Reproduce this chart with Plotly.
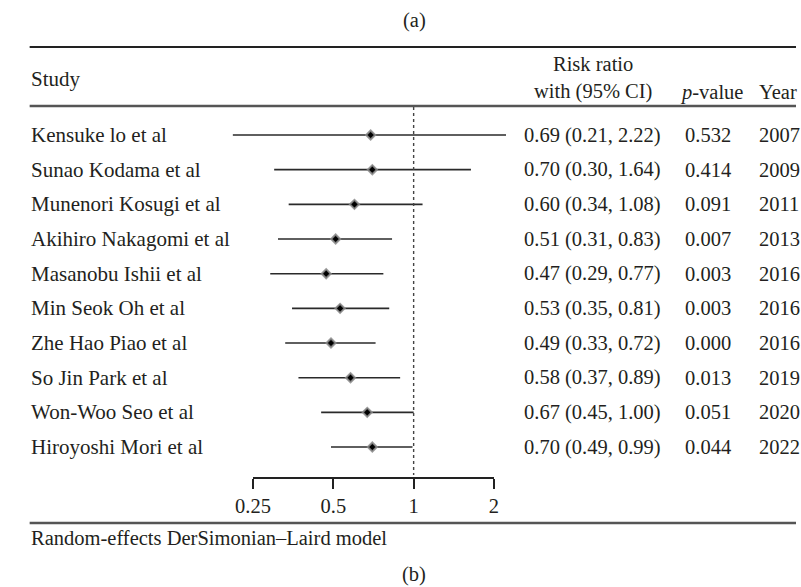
import math
import plotly.graph_objects as go

# ---------------- data ----------------
studies = ["Kensuke lo et al", "Sunao Kodama et al", "Munenori Kosugi et al",
           "Akihiro Nakagomi et al", "Masanobu Ishii et al", "Min Seok Oh et al",
           "Zhe Hao Piao et al", "So Jin Park et al", "Won-Woo Seo et al",
           "Hiroyoshi Mori et al"]
rr = [0.69, 0.70, 0.60, 0.51, 0.47, 0.53, 0.49, 0.58, 0.67, 0.70]
ci_low = [0.21, 0.30, 0.34, 0.31, 0.29, 0.35, 0.33, 0.37, 0.45, 0.49]
ci_high = [2.22, 1.64, 1.08, 0.83, 0.77, 0.81, 0.72, 0.89, 1.00, 0.99]
p_values = ["0.532", "0.414", "0.091", "0.007", "0.003", "0.003", "0.000", "0.013", "0.051", "0.044"]
years = ["2007", "2009", "2011", "2013", "2016", "2016", "2016", "2019", "2020", "2022"]
tick_vals = [0.25, 0.5, 1, 2]
tick_labels = ["0.25", "0.5", "1", "2"]

# ---------------- layout helpers ----------------
W, H = 801, 587
FONT = "Liberation Serif, Times New Roman, serif"
FS = 20.5
FS_NAME = 21
TXT = "#231f20"

row0_px, row_step = 135.0, 34.67
axis_px = 477.0
ax_left_px, ax_right_px = 242.0, 490.0
px_per_log2 = (ax_right_px - ax_left_px) / 3.0
one_px = ax_left_px + 2 * px_per_log2


def py(p):
    return 1 - p / H


def px(p):
    return p / W


rows = list(range(len(studies)))
x_lo = math.log10(2) * (-one_px / px_per_log2)
x_hi = math.log10(2) * ((W - one_px) / px_per_log2)
y_top = -row0_px / row_step
y_bot = (H - row0_px) / row_step

fig = go.Figure()

# CI lines
cx, cy = [], []
for i, (lo, hi) in enumerate(zip(ci_low, ci_high)):
    cx += [lo, hi, None]
    cy += [i, i, None]
fig.add_trace(go.Scatter(x=cx, y=cy, mode="lines",
                         line=dict(color="#2a2a2a", width=1.6),
                         hoverinfo="skip", showlegend=False))

# reference line at 1
fig.add_trace(go.Scatter(x=[1, 1], y=[(107 - row0_px) / row_step, (475 - row0_px) / row_step],
                         mode="lines", line=dict(color="#444", width=1.4, dash="dot"),
                         hoverinfo="skip", showlegend=False))

# point estimates
fig.add_trace(go.Scatter(x=rr, y=rows, mode="markers",
                         marker=dict(symbol="diamond", size=7, color="black",
                                     line=dict(color="rgba(140,140,140,0.85)", width=2)),
                         hoverinfo="skip", showlegend=False))

# dummy trace for the visible axis
fig.add_trace(go.Scatter(x=[tick_vals[0], tick_vals[-1]], y=[0, 0], xaxis="x2", yaxis="y2",
                         mode="markers", marker=dict(opacity=0), hoverinfo="skip",
                         showlegend=False))

ann = []


def add_text(text, x, y, xanchor="left", yref="paper", size=FS, yanchor="middle"):
    ann.append(dict(text=text, x=x, y=y, xref="paper", yref=yref, xanchor=xanchor,
                    yanchor=yanchor, showarrow=False, borderpad=0,
                    font=dict(family=FONT, size=size, color=TXT)))


# headers
add_text("(a)", px(408), py(20), "center")
add_text("Study", px(12), py(79), size=FS_NAME)
add_text("Risk ratio", px(592), py(64), "center")
add_text("with (95% CI)", px(592), py(91), "center")
add_text("<i>p</i>-value", px(714), py(92), "center")
add_text("Year", px(762), py(92))
add_text("Random-effects DerSimonian\u2013Laird model", px(12), py(538))
add_text("(b)", px(408), 0.0, "center", yanchor="bottom")

for i in rows:
    add_text(studies[i], px(12), i, "left", "y", size=FS_NAME)
    add_text(f"{rr[i]:.2f} ({ci_low[i]:.2f}, {ci_high[i]:.2f})", px(591), i, "center", "y")
    add_text(p_values[i], px(710), i, "center", "y")
    add_text(years[i], px(762), i, "left", "y")

shapes = [
    dict(type="line", xref="paper", yref="paper", x0=px(12), x1=1, y0=py(47), y1=py(47),
         line=dict(color="#222", width=2)),
    dict(type="line", xref="paper", yref="paper", x0=px(12), x1=1, y0=py(106), y1=py(106),
         line=dict(color="#555", width=2.5)),
    dict(type="line", xref="paper", yref="paper", x0=px(12), x1=1, y0=py(523), y1=py(523),
         line=dict(color="#555", width=2.5)),
]

fig.update_layout(
    width=W, height=H, autosize=False,
    margin=dict(l=0, r=0, t=0, b=0),
    paper_bgcolor="white", plot_bgcolor="rgba(0,0,0,0)",
    showlegend=False,
    xaxis=dict(type="log", range=[x_lo, x_hi], domain=[0, 1], visible=False, fixedrange=True),
    yaxis=dict(range=[y_bot, y_top], domain=[0, 1], visible=False, fixedrange=True),
    xaxis2=dict(type="log", domain=[px(ax_left_px), px(ax_right_px)],
                range=[math.log10(tick_vals[0]) - 1e-6, math.log10(tick_vals[-1]) + 1e-6],
                anchor="y2", side="bottom", showline=True, linecolor="#222", linewidth=1.5,
                ticks="outside", ticklen=10, tickwidth=1.5, tickcolor="#222",
                tickvals=tick_vals, ticktext=tick_labels, showgrid=False, zeroline=False,
                tickfont=dict(family=FONT, size=FS, color=TXT), fixedrange=True),
    yaxis2=dict(domain=[py(axis_px), py(axis_px) + 0.01], visible=False, fixedrange=True),
    annotations=ann,
    shapes=shapes,
)

fig.write_html("out.html")
